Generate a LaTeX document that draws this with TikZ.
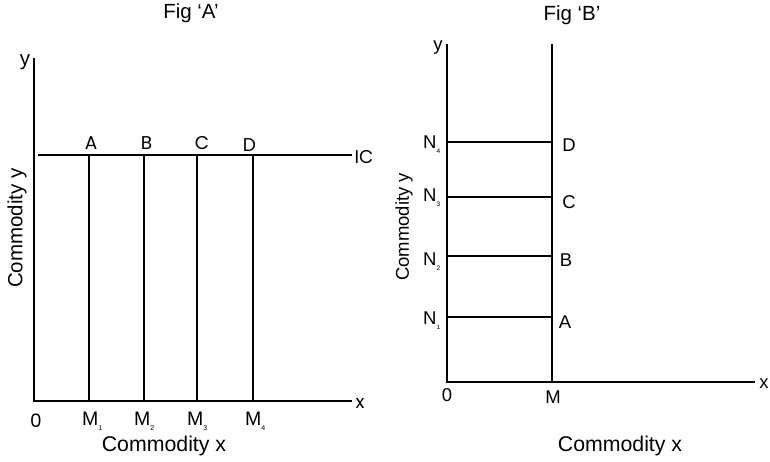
\documentclass[tikz,border=0pt]{standalone}
\usepackage{fontspec}
\setmainfont{Liberation Sans}
\newfontfamily\gothic{Poppins}
\begin{document}
\begin{tikzpicture}[x=1pt,y=-1pt,
  axis/.style={line width=1.8pt},
  thin/.style={line width=1.5pt},
  lab/.style={inner sep=0pt,font=\fontsize{20.5}{24}\selectfont},
  mlab/.style={inner sep=0pt,font=\fontsize{19.5}{23}\selectfont},
  glab/.style={inner sep=0pt,font=\gothic\fontsize{18.5}{22}\selectfont},
  blab/.style={inner sep=0pt,font=\fontsize{18.5}{22}\selectfont},
  ttl/.style={inner sep=0pt,font=\fontsize{20.5}{24}\selectfont}]
\useasboundingbox (0,0) rectangle (770,461);
% ---------- Fig A ----------
\node[ttl] (tA) at (191,13) {Fig ‘A’};
\coordinate (Atop) at (34,58);
\coordinate (AO) at (34,401);
\coordinate (Axend) at (352,401);
\coordinate (ICs) at (38,155);
\coordinate (ICe) at (352,155);
\foreach \n/\xx in {1/89,2/144,3/197,4/253}{
  \coordinate (Ap\n) at (\xx,155);
  \coordinate (Am\n) at (\xx,401);
}
\draw[axis] (Atop) -- (AO) -- (Axend);
\draw[axis] (ICs) -- (ICe);
\foreach \n in {1,2,3,4}{\draw[axis] (Ap\n) -- (Am\n);}
\node[lab] (yA) at (25,62) {y};
\node[glab] (lA) at (91,143) {A};
\node[glab] (lB) at (146.5,143) {B};
\node[glab] (lC) at (202,143) {C};
\node[glab] (lD) at (249.5,145.5) {D};
\node[glab] (lIC) at (364,157) {IC};
\node[glab] (xA) at (360,403) {x};
\node[glab] (oA) at (36,421) {0};
\node[mlab,anchor=west] (m1) at (82,421) {M\raisebox{-0.5ex}{\fontsize{7}{8}\selectfont 1}};
\node[mlab,anchor=west] (m2) at (134,421) {M\raisebox{-0.5ex}{\fontsize{7}{8}\selectfont 2}};
\node[mlab,anchor=west] (m3) at (187,421) {M\raisebox{-0.5ex}{\fontsize{7}{8}\selectfont 3}};
\node[mlab,anchor=west] (m4) at (245,421) {M\raisebox{-0.5ex}{\fontsize{7}{8}\selectfont 4}};
\node[lab,font=\fontsize{21.3}{25}\selectfont] (cxA) at (164,446) {Commodity x};
\node[lab,rotate=90] (cyA) at (17,228) {Commodity y};
% ---------- Fig B ----------
\node[ttl] (tB) at (572,15) {Fig ‘B’};
\coordinate (Btop) at (447,44);
\coordinate (BO) at (447,382);
\coordinate (Bxend) at (755,382);
\coordinate (Mtop) at (552,44);
\coordinate (Mbot) at (552,382);
\foreach \n/\yy in {1/317,2/256,3/197,4/142}{
  \coordinate (Bn\n) at (448,\yy);
  \coordinate (Bp\n) at (552,\yy);
}
\draw[axis] (Btop) -- (BO) -- (Bxend);
\draw[axis] (Mtop) -- (Mbot);
\foreach \n in {1,2,3,4}{\draw[thin] (Bn\n) -- (Bp\n);}
\node[blab] (yB) at (438,48) {y};
\node[blab] (dB) at (569,145) {D};
\node[blab] (cB) at (569,202) {C};
\node[blab] (bB) at (566,260) {B};
\node[blab] (aB) at (565,322) {A};
\node[blab,anchor=west] (n4) at (423,145) {N\raisebox{-0.5ex}{\fontsize{6.5}{8}\selectfont 4}};
\node[blab,anchor=west] (n3) at (423,198) {N\raisebox{-0.5ex}{\fontsize{6.5}{8}\selectfont 3}};
\node[blab,anchor=west] (n2) at (423,262) {N\raisebox{-0.5ex}{\fontsize{6.5}{8}\selectfont 2}};
\node[blab,anchor=west] (n1) at (423,321) {N\raisebox{-0.5ex}{\fontsize{6.5}{8}\selectfont 1}};
\node[blab] (oB) at (447,395) {0};
\node[blab] (mB) at (553,397) {M};
\node[blab] (xB) at (764,384) {x};
\node[blab,font=\fontsize{21.3}{25}\selectfont] (cxB) at (620,446) {Commodity x};
\node[blab,rotate=90] (cyB) at (404,227) {Commodity y};
\end{tikzpicture}
\end{document}
